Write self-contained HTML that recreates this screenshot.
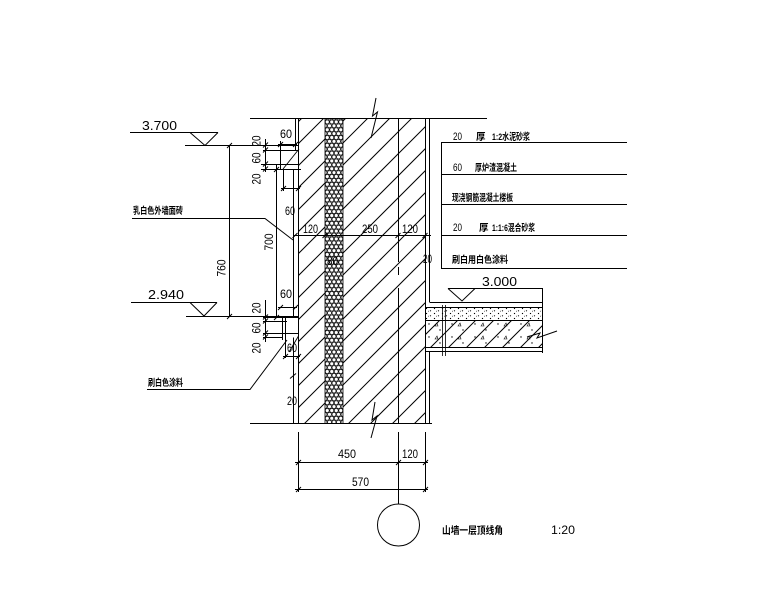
<!DOCTYPE html>
<html><head><meta charset="utf-8">
<style>html,body{margin:0;padding:0;background:#fff;}svg{display:block}</style>
</head>
<body>
<svg width="780" height="610" viewBox="0 0 780 610" xmlns="http://www.w3.org/2000/svg">
<defs>
<clipPath id="wall"><rect x="299" y="118.5" width="26" height="305"/><rect x="343" y="118.5" width="82.5" height="305"/></clipPath>
<clipPath id="slab"><rect x="425.5" y="320.5" width="117" height="27"/></clipPath>
<pattern id="ins" width="4.5" height="7.8" patternUnits="userSpaceOnUse" x="325" y="118">
<g fill="none" stroke="#000" stroke-width="0.75">
<circle cx="0" cy="0" r="2"/><circle cx="4.5" cy="0" r="2"/><circle cx="2.25" cy="3.9" r="2"/><circle cx="0" cy="7.8" r="2"/><circle cx="4.5" cy="7.8" r="2"/>
</g>
</pattern>
<pattern id="dots" width="8" height="5" patternUnits="userSpaceOnUse" x="425" y="307">
<circle cx="1.5" cy="1.5" r="0.65" fill="#000"/><circle cx="5.5" cy="3.8" r="0.6" fill="#000"/><circle cx="3.5" cy="4.2" r="0.4" fill="#000"/>
</pattern>
<pattern id="dots2" width="23" height="13" patternUnits="userSpaceOnUse" x="425" y="320">
<circle cx="4" cy="4" r="0.7" fill="#000"/><circle cx="15" cy="10" r="0.7" fill="#000"/><path d="M10 6 l2 -3 l1 3 z" fill="none" stroke="#000" stroke-width="0.6"/>
</pattern>
</defs>

<!-- insulation -->
<rect x="325" y="118.5" width="18" height="305" fill="url(#ins)"/>
<!-- slab fills -->
<rect x="425.5" y="307.5" width="117" height="13" fill="url(#dots)"/>
<rect x="425.5" y="320.5" width="117" height="27" fill="url(#dots2)"/>

<g stroke="#000" stroke-width="1" fill="none">
<!-- wall hatch -->
<g clip-path="url(#wall)">
<path d="M-10 430L310 110M12 430L332 110M34 430L354 110M56 430L376 110M78 430L398 110M100 430L420 110M122 430L442 110M144 430L464 110M166 430L486 110M188 430L508 110M210 430L530 110M232 430L552 110M254 430L574 110M276 430L596 110M298 430L618 110M320 430L640 110M342 430L662 110M364 430L684 110M386 430L706 110M408 430L728 110"/>
</g>
<!-- slab hatch -->
<g clip-path="url(#slab)">
<path d="M400 360L450 310M418 360L468 310M436 360L486 310M454 360L504 310M472 360L522 310M490 360L540 310M508 360L558 310M526 360L576 310M544 360L594 310"/>
</g>

<!-- insulation edges -->
<path d="M325 118.5V423.5M343 118.5V423.5" stroke-width="0.8"/>

<!-- top & bottom lines -->
<path d="M250 118.5H487"/>
<path d="M250 423.5H432"/>
<!-- break symbols -->
<path d="M376 98L372.5 116L377.5 112L371 138"/>
<path d="M375 402L372 420L377 416L371 438"/>

<!-- wall faces -->
<path d="M298.5 118.5V423.5"/>
<path d="M295.5 118.5V150.5"/>
<path d="M293.5 169.5V317"/>
<path d="M293.5 337.5V423.5"/>
<path d="M425.5 118.5V423.5"/>
<path d="M429.5 118.5V302.5M429.5 351.5V423.5"/>
<path d="M398.5 118.5V262M398.5 267V275M398.5 288V423.5"/>

<!-- upper cornice -->
<path d="M263 150.5H299M261 164.5H299M261 169.5H301"/>
<path d="M280.5 141V169.5"/>
<path d="M283.5 169.5V191"/>
<path d="M299 149L283 169" stroke-width="0.9"/>
<!-- 700 dim line -->
<path d="M276.5 164.5V317.5"/>
<!-- lower cornice -->
<path d="M263 317.5H298.5M263 321.5H287M263 333.5H298.5M263 337.5H283"/>
<path d="M282.5 317.5V340M285.5 317.5V358"/>
<path d="M298.5 336L289 352" stroke-width="0.9"/>

<!-- level 3.700 -->
<path d="M130 132.5H218"/>
<path d="M190 132.5L205 145.5L218 132.5"/>
<path d="M185 145.5H299"/>
<!-- level 2.940 -->
<path d="M131 302.5H217"/>
<path d="M190 302.5L204 316L217 302.5"/>
<path d="M186 316.5H298.5"/>

<!-- vertical dim 760 -->
<path d="M229.5 145.5V316.5"/>
<path d="M227 148L232 143M227 319L232 314"/>
<!-- dim chains -->
<path d="M265.5 139V172M265.5 300V342"/>
<path d="M263 147.5L268 142.5M263 152.5L268 147.5M263 166.5L268 161.5M263 171.5L268 166.5"/>
<path d="M263 319.5L268 314.5M263 323.5L268 318.5M263 335.5L268 330.5M263 339.5L268 334.5"/>
<path d="M274 172L279 167M274 320L279 315"/>

<!-- 60 dims -->
<path d="M278 144.5H297"/>
<path d="M278 147L283 142M293 147L298 142"/>
<path d="M281 188.5H300"/>
<path d="M281 191L286 186M296 191L301 186"/>
<path d="M278 307.5H297"/>
<path d="M278 310L283 305M293 310L298 305"/>
<path d="M283 356.5H300"/>
<path d="M283 359L288 354M296 359L301 354"/>
<path d="M290 378.5L296 373.5"/>

<!-- dim 120/250/120 -->
<path d="M293 235.5H431"/>
<path d="M292.5 238L297.5 233M322.5 238L327.5 233M395.5 238L400.5 233M422.5 238L427.5 233"/>

<!-- leaders left -->
<path d="M132 218.5H265L293 240"/>
<path d="M147 389.5H250L287 340"/>

<!-- right labels -->
<path d="M441.5 142V268.5"/>
<path d="M441 142.5H627M441 174.5H627M441 204.5H627M441 235.5H627M441 268.5H627"/>

<!-- slab -->
<path d="M430 302.5H542.5M425.5 307.5H542.5M425.5 320.5H542.5M425.5 347.5H542.5M425.5 351.5H542.5"/>
<path d="M542.5 288V353"/>
<path d="M442.5 305V356M445.5 305V356" stroke-width="0.8"/>
<path d="M448 288.5H542.5"/>
<path d="M448 288.5L462 301L475 288.5"/>
<path d="M527 337L540 333L537 338L557 331"/>

<!-- bottom dims -->
<path d="M298.5 432V492M398.5 432V504M425.5 432V492"/>
<path d="M295 462.5H428M295 489.5H428"/>
<path d="M296 465L301 460M396 465L401 460M423 465L428 460M296 492L301 487M423 492L428 487"/>
<circle cx="398.5" cy="525" r="21"/>
</g>

<g font-family="'Liberation Sans', sans-serif" fill="#000" font-size="13">
<text x="142" y="130" textLength="35" lengthAdjust="spacingAndGlyphs">3.700</text>
<text x="148" y="299" textLength="36" lengthAdjust="spacingAndGlyphs">2.940</text>
<text x="482" y="286" textLength="35" lengthAdjust="spacingAndGlyphs">3.000</text>
</g>

<g font-family="'Liberation Sans', sans-serif" fill="#000" font-size="11.5">
<text transform="translate(225.5,268) rotate(-90)" text-anchor="middle" textLength="17" lengthAdjust="spacingAndGlyphs">760</text>
<text transform="translate(273,242) rotate(-90)" text-anchor="middle" textLength="17" lengthAdjust="spacingAndGlyphs">700</text>
<text transform="translate(260.5,141) rotate(-90)" text-anchor="middle" textLength="11" lengthAdjust="spacingAndGlyphs">20</text>
<text transform="translate(260.5,158) rotate(-90)" text-anchor="middle" textLength="11" lengthAdjust="spacingAndGlyphs">60</text>
<text transform="translate(260.5,179) rotate(-90)" text-anchor="middle" textLength="11" lengthAdjust="spacingAndGlyphs">20</text>
<text transform="translate(260.5,308) rotate(-90)" text-anchor="middle" textLength="11" lengthAdjust="spacingAndGlyphs">20</text>
<text transform="translate(260.5,328) rotate(-90)" text-anchor="middle" textLength="11" lengthAdjust="spacingAndGlyphs">60</text>
<text transform="translate(260.5,348) rotate(-90)" text-anchor="middle" textLength="11" lengthAdjust="spacingAndGlyphs">20</text>
<text x="280" y="138" textLength="12" lengthAdjust="spacingAndGlyphs">60</text>
<text x="285" y="215" textLength="10" lengthAdjust="spacingAndGlyphs">60</text>
<text x="280" y="298" textLength="12" lengthAdjust="spacingAndGlyphs">60</text>
<text x="287" y="352" textLength="10" lengthAdjust="spacingAndGlyphs">60</text>
<text x="287" y="405" textLength="10" lengthAdjust="spacingAndGlyphs">20</text>
<text x="303" y="233" textLength="15" lengthAdjust="spacingAndGlyphs">120</text>
<text x="362" y="233" textLength="16" lengthAdjust="spacingAndGlyphs">250</text>
<text x="402" y="233" textLength="16" lengthAdjust="spacingAndGlyphs">120</text>
<text x="327" y="265" textLength="11" lengthAdjust="spacingAndGlyphs">80</text>
<text x="423" y="263" textLength="9" lengthAdjust="spacingAndGlyphs">20</text>
<text x="338" y="458" textLength="18" lengthAdjust="spacingAndGlyphs">450</text>
<text x="402" y="458" textLength="16" lengthAdjust="spacingAndGlyphs">120</text>
<text x="352" y="486" textLength="17" lengthAdjust="spacingAndGlyphs">570</text>
<text x="551" y="534" textLength="24" lengthAdjust="spacingAndGlyphs">1:20</text>
</g>

<g font-family="'Liberation Sans', 'Noto Sans CJK SC', sans-serif" fill="#000" font-size="9.5" font-weight="bold">
<text x="453" y="140" textLength="9" lengthAdjust="spacingAndGlyphs" font-weight="normal" font-size="11">20</text>
<text x="476" y="140">厚</text>
<text x="492" y="140" textLength="38" lengthAdjust="spacingAndGlyphs">1:2水泥砂浆</text>
<text x="453" y="171" textLength="9" lengthAdjust="spacingAndGlyphs" font-weight="normal" font-size="11">60</text>
<text x="475" y="171" textLength="42" lengthAdjust="spacingAndGlyphs">厚炉渣混凝土</text>
<text x="452" y="201" textLength="61" lengthAdjust="spacingAndGlyphs">现浇钢筋混凝土楼板</text>
<text x="453" y="231" textLength="9" lengthAdjust="spacingAndGlyphs" font-weight="normal" font-size="11">20</text>
<text x="479" y="231">厚</text>
<text x="492" y="231" textLength="43" lengthAdjust="spacingAndGlyphs">1:1:6混合砂浆</text>
<text x="452" y="263" textLength="56" lengthAdjust="spacingAndGlyphs">刷白用白色涂料</text>
<text x="133" y="214" textLength="50" lengthAdjust="spacingAndGlyphs">乳白色外墙面砖</text>
<text x="148" y="386" textLength="35" lengthAdjust="spacingAndGlyphs">刷白色涂料</text>
<text x="442" y="534" textLength="61" lengthAdjust="spacingAndGlyphs" font-size="10">山墙一层顶线角</text>
</g>
</svg>
</body></html>
